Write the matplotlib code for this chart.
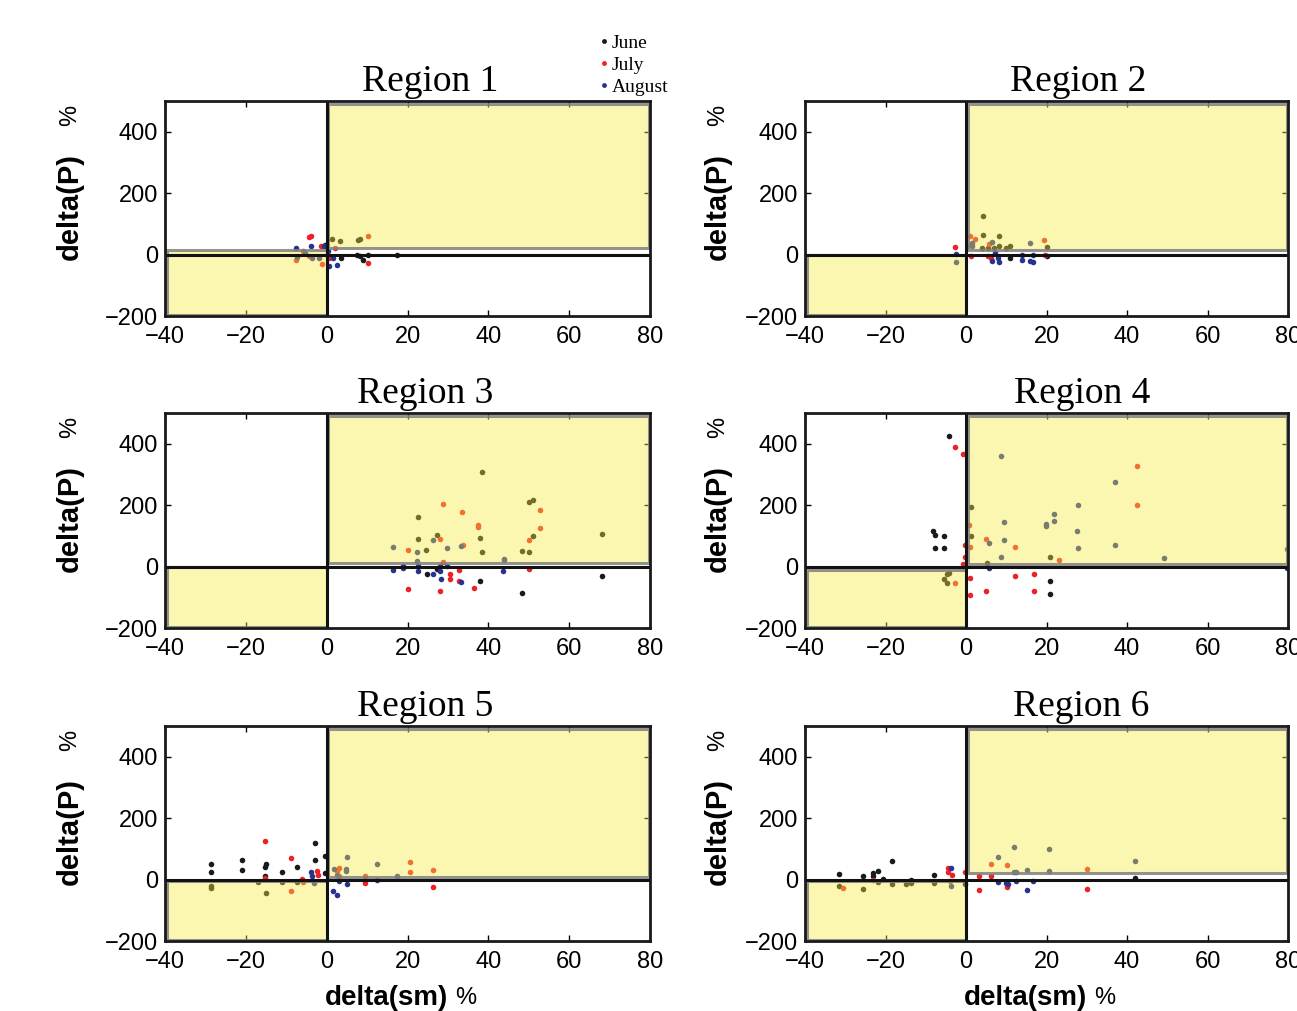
import matplotlib
matplotlib.use("Agg")
import matplotlib.pyplot as plt
from matplotlib.patches import Rectangle
from matplotlib.lines import Line2D

# ---- data (delta(sm) %, delta(P) %) ----
r1_june_x = [1.2, 3.3, 7.8, 8.2, 3.5, 7.6, 8.2, 8.9, 10.3, 17.3, -0.4]
r1_june_y = [52, 43, 49, 52, -11, 0, -5, -16, 0, 0, 30]
r1_july_x = [-4.3, -4.0, -4.3, -7.6, -5.9, -1.2, -1.5, 2.0, 0.6, 10.3, 10.3]
r1_july_y = [56, 60, -5, -18, 13, -30, 27, 20, -11, 60, -27]
r1_aug_x = [-7.6, -4.0, -7.4, -5.4, -3.7, -2.0, -0.6, 0.4, 1.6, 0.6, 2.5]
r1_aug_y = [22, 27, -9, 5, -11, -11, 27, 11, -11, -38, -33]

r2_june_x = [4.3, 4.3, 8.1, 3.9, 5.4, 7.0, 8.1, 9.9, 10.9, 10.8, 20.1, 20.1]
r2_june_y = [125, 63, 62, 22, 20, 22, 29, 22, 27, -11, 24, -5]
r2_july_x = [1.0, 2.1, 5.6, 0.4, -2.7, 1.2, 5.5, 6.2, 19.3, 19.5]
r2_july_y = [60, 51, 33, 29, 25, -5, -5, -11, 46, 0]
r2_aug_x = [6.5, 1.4, 1.4, -2.5, -2.5, 6.5, 7.9, 8.1, 7.1, 15.9, 13.9, 14.0, 15.9, 16.6, 16.6]
r2_aug_y = [40, 38, 27, 2, -24, -20, -11, -24, 6, 38, -2, -16, -22, -25, 0]

r3_june_x = [38.5, 50.1, 51.0, 51.0, 48.2, 50.1, 68.1, 68.1, 48.2, 38.0, 38.5, 38.0,
             22.5, 22.5, 27.2, 24.6, 24.7, 27.2]
r3_june_y = [308, 209, 216, 101, 50, 46, 106, -31, -86, -48, 46, 92,
             160, 89, 103, 53, -24, -8]
r3_july_x = [52.8, 52.8, 50.1, 50.1, 37.5, 37.5, 33.6, 33.7, 28.8, 28.0, 20.1, 28.8,
             32.7, 30.6, 30.6, 32.7, 20.2, 28.0, 36.5]
r3_july_y = [183, 127, 88, -8, 137, 128, 177, 71, 204, 91, 55, 14,
             -10, -24, -42, -46, -72, -79, -71]
r3_aug_x = [43.7, 43.9, 43.9, 33.2, 26.4, 29.7, 22.3, 16.3, 22.3, 16.3, 19.0, 19.0,
            22.7, 22.7, 26.4, 28.0, 28.0, 29.7, 28.3, 33.2]
r3_aug_y = [-13, 26, 22, 68, 87, 60, 49, 65, 17, -11, 3, -4,
            3, -15, -24, -15, 1, 1, -42, -49]

r4_june_x = [-4.3, 1.3, 1.3, 20.8, 5.2, -8.3, -7.6, -5.5, -7.6, -5.4, -4.3, -4.7,
             -5.6, -4.7, 20.8, 20.8]
r4_june_y = [424, 194, 101, 30, 13, 115, 104, 101, 62, 59, -21, -25,
             -40, -55, -46, -88]
r4_july_x = [-2.7, -0.7, 42.4, 42.4, 0.8, 4.9, 12.2, 1.1, -0.2, 23.0, -0.2, -0.7,
             -2.7, 1.1, 0.9, 4.9, 12.2, 16.8, 16.8]
r4_july_y = [390, 365, 326, 199, 137, 90, 65, 65, 69, 22, 30, 7,
             -53, -38, -93, -81, -29, -23, -79]
r4_aug_x = [8.8, 36.9, 27.7, 21.9, 21.9, 19.9, 19.9, 9.5, 5.7, 9.5, 27.5, 27.7,
            36.9, 8.8, 5.6, 49.2, 79.8, 79.8]
r4_aug_y = [360, 276, 202, 171, 147, 140, 131, 145, 78, 87, 115, 61,
            69, 30, -5, 29, 58, -4]

r5_june_x = [-2.9, -28.5, -28.5, -20.9, -20.9, -15.0, -15.3, -15.3, -11.1, -7.4, -2.9,
             -0.4, -0.4, -28.5, -28.5, -15.0, -16.9, -11.1, -7.4]
r5_june_y = [119, 52, 24, 63, 30, 52, 41, 13, 25, 42, 65,
             76, 22, -22, -28, -43, -8, -8, -8]
r5_july_x = [-15.3, -15.3, -8.9, -2.3, -2.1, -6.0, -8.9, -5.9, 3.0, 2.5, 3.0,
             20.7, 20.7, 26.4, 26.4, 9.6, 9.6]
r5_july_y = [125, 5, 69, 27, 16, 2, -38, -9, 38, 27, 12,
             58, 24, 31, -25, 12, -11]
r5_aug_x = [-4.0, -3.7, -3.1, 1.8, 5.1, 4.7, 4.7, 2.5, 3.1, 5.1, 1.6, 2.5, 12.5, 12.4, 17.5]
r5_aug_y = [24, 11, -11, 36, 74, 33, 28, 15, -5, -13, -38, -49, 50, 0, 12]

r6_june_x = [-31.5, -31.5, -25.5, -25.5, -23.0, -23.0, -21.8, -21.8, -20.7, -18.3,
             -18.3, -15.0, -13.8, -13.8, -7.9, -7.9, -0.2, 42.0]
r6_june_y = [17, -22, 11, -30, 20, 11, 29, -9, 2, 59,
             -15, -15, -11, -2, 15, -10, -15, 5]
r6_july_x = [-30.5, -23.0, -4.4, -4.4, -3.4, -4.1, -0.3, 3.2, 6.1, 6.1, 10.1,
             30.1, 30.1, 3.2, 10.1]
r6_july_y = [-28, 0, 37, 24, 16, -4, 25, 11, 13, 52, 47,
             33, -31, -34, -24]
r6_aug_x = [-3.7, -3.7, 7.9, 11.9, 11.9, 12.4, 15.2, 20.5, 20.5, 7.9, 9.9, 10.4,
            12.4, 15.2, 16.7, 42.0]
r6_aug_y = [37, -22, 74, 106, 25, 25, 30, 98, 28, -7, -12, -15,
            -4, -33, -5, 62]

regions = ["Region 1", "Region 2", "Region 3", "Region 4", "Region 5", "Region 6"]
months = ["June", "July", "August"]

june_x = [r1_june_x, r2_june_x, r3_june_x, r4_june_x, r5_june_x, r6_june_x]
june_y = [r1_june_y, r2_june_y, r3_june_y, r4_june_y, r5_june_y, r6_june_y]
july_x = [r1_july_x, r2_july_x, r3_july_x, r4_july_x, r5_july_x, r6_july_x]
july_y = [r1_july_y, r2_july_y, r3_july_y, r4_july_y, r5_july_y, r6_july_y]
aug_x = [r1_aug_x, r2_aug_x, r3_aug_x, r4_aug_x, r5_aug_x, r6_aug_x]
aug_y = [r1_aug_y, r2_aug_y, r3_aug_y, r4_aug_y, r5_aug_y, r6_aug_y]

# ---- style ----
cores = ["#1a1a1a", "#ee2126", "#26338f"]
amarelo = (0.97, 0.93, 0.24, 0.4)
borda = (0.5, 0.5, 0.5, 0.85)
# lower edge of upper-right box, upper edge of lower-left box
nivel_alto = [22, 14, 12, 10, 10, 20]
nivel_baixo = [15, 0, 0, -10, -6, -5]

plt.rcParams["font.family"] = ["Liberation Sans", "DejaVu Sans"]

fig = plt.figure(figsize=(12.97, 10.11), dpi=100)

lefts = [0.1272, 0.6207]
widths = [0.374, 0.3724]
bottoms = [0.6874, 0.3788, 0.0692]
alt = 0.2127
title_x = [0.547, 0.566, 0.536, 0.574, 0.537, 0.571]

for i in range(6):
    lin, col = i // 2, i % 2
    ax = fig.add_axes([lefts[col], bottoms[lin], widths[col], alt])
    ax.set_xlim(-40, 80)
    ax.set_ylim(-200, 500)

    for xs, ys, c in zip([june_x[i], july_x[i], aug_x[i]],
                         [june_y[i], july_y[i], aug_y[i]], cores):
        ax.scatter(xs, ys, s=16, color=c, linewidths=0, zorder=1)

    ax.add_patch(Rectangle((0.4, nivel_alto[i]), 79.3, 490 - nivel_alto[i],
                           facecolor=amarelo, edgecolor=borda, linewidth=2.2, zorder=2))
    ax.add_patch(Rectangle((-39.4, -197), 39.4, 197 + nivel_baixo[i],
                           facecolor=amarelo, edgecolor=borda, linewidth=2.2, zorder=2))

    ax.axhline(0, color="#111111", linewidth=2.2, zorder=3)
    ax.axvline(0, color="#111111", linewidth=2.2, zorder=3)

    ax.set_xticks([-40, -20, 0, 20, 40, 60, 80])
    ax.set_yticks([-200, 0, 200, 400])
    ax.set_xticklabels(["\u221240", "\u221220", "0", "20", "40", "60", "80"])
    ax.set_yticklabels(["\u2212200", "0", "200", "400"])
    ax.tick_params(direction="in", top=True, right=True, length=4, width=1,
                   labelsize=17)
    ax.tick_params(axis="x", pad=7)
    ax.tick_params(axis="y", pad=5)
    for sp in ax.spines.values():
        sp.set_linewidth(2.0)
        sp.set_color("#1a1a1a")
        sp.set_zorder(4)

    ax.set_title(regions[i], x=title_x[i], fontsize=27, family="Liberation Serif", pad=7)

    ylx = -0.196 if col == 0 else -0.18
    ax.text(ylx, 0.51, "delta(P)", rotation=90, transform=ax.transAxes,
            ha="center", va="center", fontsize=21, fontweight="bold")
    ax.text(ylx, 0.935, "%", rotation=90, transform=ax.transAxes,
            ha="center", va="center", fontsize=17)

    if lin == 2:
        ax.text(0.457, -0.265, "delta(sm)", transform=ax.transAxes,
                ha="center", va="center", fontsize=20, fontweight="bold")
        ax.text(0.62, -0.265, "%", transform=ax.transAxes,
                ha="center", va="center", fontsize=17)

handles = [Line2D([], [], linestyle="none", marker="o", markersize=3.5,
                  markerfacecolor=c, markeredgewidth=0) for c in cores]
fig.legend(handles, months, loc="upper left", bbox_to_anchor=(0.443, 0.983),
           frameon=False, handletextpad=-0.2, labelspacing=0.22, handlelength=1.2,
           prop={"family": "Liberation Serif", "size": 14})

fig.savefig("out.png", dpi=100)
